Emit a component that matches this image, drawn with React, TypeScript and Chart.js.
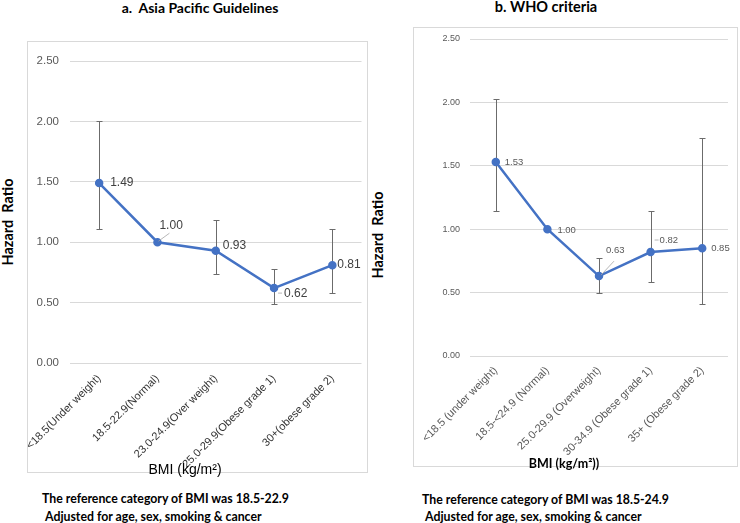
import React, { useEffect, useRef } from "react";
import { Chart, registerables } from "chart.js";

Chart.register(...registerables);

// ---------- data ----------
const apCategories = [
  "<18.5(Under weight)",
  "18.5-22.9(Normal)",
  "23.0-24.9(Over weight)",
  "25.0-29.9(Obese grade 1)",
  "30+(obese grade 2)",
];
const apHazard = [1.49, 1.0, 0.93, 0.62, 0.81];
const apLower: (number | null)[] = [1.11, null, 0.74, 0.49, 0.58];
const apUpper: (number | null)[] = [2.0, null, 1.18, 0.78, 1.11];

const whoCategories = [
  "<18.5 (under weight)",
  "18.5-<24.9 (Normal)",
  "25.0-29.9 (Overweight)",
  "30-34.9 (Obese grade 1)",
  "35+ (Obese grade 2)",
];
const whoHazard = [1.53, 1.0, 0.63, 0.82, 0.85];
const whoLower: (number | null)[] = [1.14, null, 0.5, 0.58, 0.41];
const whoUpper: (number | null)[] = [2.03, null, 0.77, 1.14, 1.72];

const yMin = 0;
const yMax = 2.5;
const yStep = 0.5;

// ---------- styles ----------
type LabelSpec = { dx: number; dy: number; leader?: [number, number, number, number] };

interface ChartSpec {
  categories: string[];
  values: number[];
  lower: (number | null)[];
  upper: (number | null)[];
  width: number;
  height: number;
  padTop: number;
  padRight: number;
  yAxisWidth: number;
  xAxisHeight: number;
  tickFont: number;
  tickPad: number;
  tickColor: string;
  xFont: number;
  xColor: string;
  xPad: number;
  labelFont: number;
  labelColor: string;
  labels: LabelSpec[];
  cap: number;
}

const LINE_COLOR = "#4472c4";
const GRID_COLOR = "#d9d9d9";
const ERR_COLOR = "#6b6b6b";
const ARIAL = "'Liberation Sans', Arial, sans-serif";
const BOLD = "Lato, 'Liberation Sans', sans-serif";

const leftSpec: ChartSpec = {
  categories: apCategories,
  values: apHazard,
  lower: apLower,
  upper: apUpper,
  width: 341,
  height: 432,
  padTop: 20,
  padRight: 2,
  yAxisWidth: 43,
  xAxisHeight: 110,
  tickFont: 11.5,
  tickPad: 11,
  tickColor: "#595959",
  xFont: 11,
  xColor: "#333333",
  xPad: 9,
  labelFont: 12,
  labelColor: "#404040",
  labels: [
    { dx: 11, dy: 0 },
    { dx: 2, dy: -17, leader: [1, -1, 12, -9] },
    { dx: 7, dy: -5 },
    { dx: 10, dy: 6, leader: [4, 5, 8, 5] },
    { dx: 5, dy: 0 },
  ],
  cap: 3,
};

const rightSpec: ChartSpec = {
  categories: whoCategories,
  values: whoHazard,
  lower: whoLower,
  upper: whoUpper,
  width: 325,
  height: 440,
  padTop: 12,
  padRight: 10,
  yAxisWidth: 57,
  xAxisHeight: 111,
  tickFont: 9,
  tickPad: 10,
  tickColor: "#595959",
  xFont: 11,
  xColor: "#595959",
  xPad: 8,
  labelFont: 9.5,
  labelColor: "#595959",
  labels: [
    { dx: 9, dy: 0 },
    { dx: 10, dy: 1 },
    { dx: 7, dy: -26, leader: [2, -1, 15, -15] },
    { dx: 9, dy: -12, leader: [4, -12, 8, -12] },
    { dx: 9, dy: 0 },
  ],
  cap: 3,
};

function buildChart(canvas: HTMLCanvasElement, s: ChartSpec) {
  const errorBars = {
    id: "errorBars",
    beforeDatasetsDraw(chart: any) {
      const meta = chart.getDatasetMeta(0);
      const ys = chart.scales.y;
      const ctx = chart.ctx;
      ctx.save();
      ctx.strokeStyle = ERR_COLOR;
      ctx.lineWidth = 1;
      meta.data.forEach((pt: any, i: number) => {
        const lo = s.lower[i];
        const hi = s.upper[i];
        if (lo == null || hi == null) return;
        const x = Math.round(pt.x) + 0.5;
        const y1 = Math.round(ys.getPixelForValue(lo)) + 0.5;
        const y2 = Math.round(ys.getPixelForValue(hi)) + 0.5;
        ctx.beginPath();
        ctx.moveTo(x, y1);
        ctx.lineTo(x, y2);
        ctx.moveTo(x - s.cap, y1);
        ctx.lineTo(x + s.cap, y1);
        ctx.moveTo(x - s.cap, y2);
        ctx.lineTo(x + s.cap, y2);
        ctx.stroke();
      });
      ctx.restore();
    },
  };

  const valueLabels = {
    id: "valueLabels",
    afterDatasetsDraw(chart: any) {
      const meta = chart.getDatasetMeta(0);
      const ctx = chart.ctx;
      ctx.save();
      ctx.font = `${s.labelFont}px ${ARIAL}`;
      ctx.fillStyle = s.labelColor;
      ctx.textAlign = "left";
      ctx.textBaseline = "middle";
      meta.data.forEach((pt: any, i: number) => {
        const l = s.labels[i];
        if (!l) return;
        if (l.leader) {
          ctx.strokeStyle = "#a6a6a6";
          ctx.lineWidth = 0.8;
          ctx.beginPath();
          ctx.moveTo(pt.x + l.leader[0], pt.y + l.leader[1]);
          ctx.lineTo(pt.x + l.leader[2], pt.y + l.leader[3]);
          ctx.stroke();
        }
        ctx.fillText(s.values[i].toFixed(2), pt.x + l.dx, pt.y + l.dy);
      });
      ctx.restore();
    },
  };

  return new Chart(canvas, {
    type: "line",
    data: {
      labels: s.categories,
      datasets: [
        {
          data: s.values,
          borderColor: LINE_COLOR,
          backgroundColor: LINE_COLOR,
          borderWidth: 2.5,
          pointRadius: 3,
          pointBackgroundColor: LINE_COLOR,
          pointBorderColor: LINE_COLOR,
          tension: 0,
        },
      ],
    },
    options: {
      responsive: false,
      animation: false,
      devicePixelRatio: 1,
      layout: { padding: { top: s.padTop, right: s.padRight, left: 0, bottom: 0 } },
      plugins: { legend: { display: false }, tooltip: { enabled: false }, title: { display: false } },
      scales: {
        x: {
          type: "category",
          offset: true,
          grid: { display: false, drawTicks: false },
          border: { display: false },
          ticks: {
            autoSkip: false,
            minRotation: 45,
            maxRotation: 45,
            padding: s.xPad,
            color: s.xColor,
            font: { family: ARIAL, size: s.xFont },
          },
          afterFit(scale: any) {
            scale.height = s.xAxisHeight;
            scale.paddingLeft = 0;
            scale.paddingRight = 0;
          },
        },
        y: {
          min: yMin,
          max: yMax,
          grid: { color: GRID_COLOR, drawTicks: false, lineWidth: 1 },
          border: { display: false },
          ticks: {
            stepSize: yStep,
            padding: s.tickPad,
            color: s.tickColor,
            font: { family: ARIAL, size: s.tickFont },
            callback: (v: any) => Number(v).toFixed(2),
          },
          afterFit(scale: any) {
            scale.width = s.yAxisWidth;
            scale.paddingTop = 0;
            scale.paddingBottom = 0;
          },
        },
      },
    },
    plugins: [errorBars, valueLabels],
  } as any);
}

function ChartCanvas({ spec, left, top }: { spec: ChartSpec; left: number; top: number }) {
  const ref = useRef<HTMLCanvasElement>(null);
  useEffect(() => {
    if (!ref.current) return;
    const c = buildChart(ref.current, spec);
    return () => c.destroy();
  }, [spec]);
  return (
    <canvas
      ref={ref}
      width={spec.width}
      height={spec.height}
      style={{ position: "absolute", left, top, width: spec.width, height: spec.height }}
    />
  );
}

function Txt({
  x,
  y,
  children,
  size,
  bold,
  family,
  rotate,
  align = "center",
  color = "#000",
}: any) {
  const tx = align === "center" ? "-50%" : "0";
  return (
    <div
      style={{
        position: "absolute",
        left: x,
        top: y,
        transform: `translate(${tx}, -50%)${rotate ? ` rotate(${rotate}deg)` : ""}`,
        transformOrigin: align === "center" ? "50% 50%" : "0 50%",
        whiteSpace: "pre",
        fontSize: size,
        fontWeight: bold ? 700 : 400,
        fontFamily: family,
        lineHeight: 1,
        color,
      }}
    >
      {children}
    </div>
  );
}

export default function App() {
  useEffect(() => {
    document.body.style.margin = "0";
  }, []);
  return (
    <div style={{ position: "absolute", left: 0, top: 0, width: 740, height: 523, background: "#fff", overflow: "hidden" }}>
      {/* titles */}
      <Txt x={200} y={8} size={14} bold family={BOLD}>a.  Asia Pacific Guidelines</Txt>
      <Txt x={546} y={7} size={14.5} bold family={BOLD}>b. WHO criteria</Txt>

      {/* frames */}
      <div style={{ position: "absolute", left: 27, top: 41, width: 341, height: 432, border: `1px solid ${GRID_COLOR}`, boxSizing: "border-box" }} />
      <div style={{ position: "absolute", left: 413, top: 27, width: 325, height: 440, border: `1px solid ${GRID_COLOR}`, boxSizing: "border-box" }} />

      <ChartCanvas spec={leftSpec} left={27} top={41} />
      <ChartCanvas spec={rightSpec} left={413} top={27} />

      {/* axis titles */}
      <Txt x={8} y={222} size={14.5} bold family={BOLD} rotate={-90}>Hazard  Ratio</Txt>
      <Txt x={378} y={235} size={14.5} bold family={BOLD} rotate={-90}>Hazard  Ratio</Txt>
      <Txt x={185} y={469} size={14} family={ARIAL}>BMI (kg/m²)</Txt>
      <Txt x={564} y={464} size={12.5} bold family={BOLD}>BMI (kg/m²))</Txt>

      {/* footnotes */}
      <Txt x={42} y={499} size={12.3} bold family={BOLD} align="left">The reference category of BMI was 18.5-22.9</Txt>
      <Txt x={45} y={517} size={12.3} bold family={BOLD} align="left">Adjusted for age, sex, smoking &amp; cancer</Txt>
      <Txt x={422} y={500} size={12.3} bold family={BOLD} align="left">The reference category of BMI was 18.5-24.9</Txt>
      <Txt x={425} y={517} size={12.3} bold family={BOLD} align="left">Adjusted for age, sex, smoking &amp; cancer</Txt>
    </div>
  );
}
